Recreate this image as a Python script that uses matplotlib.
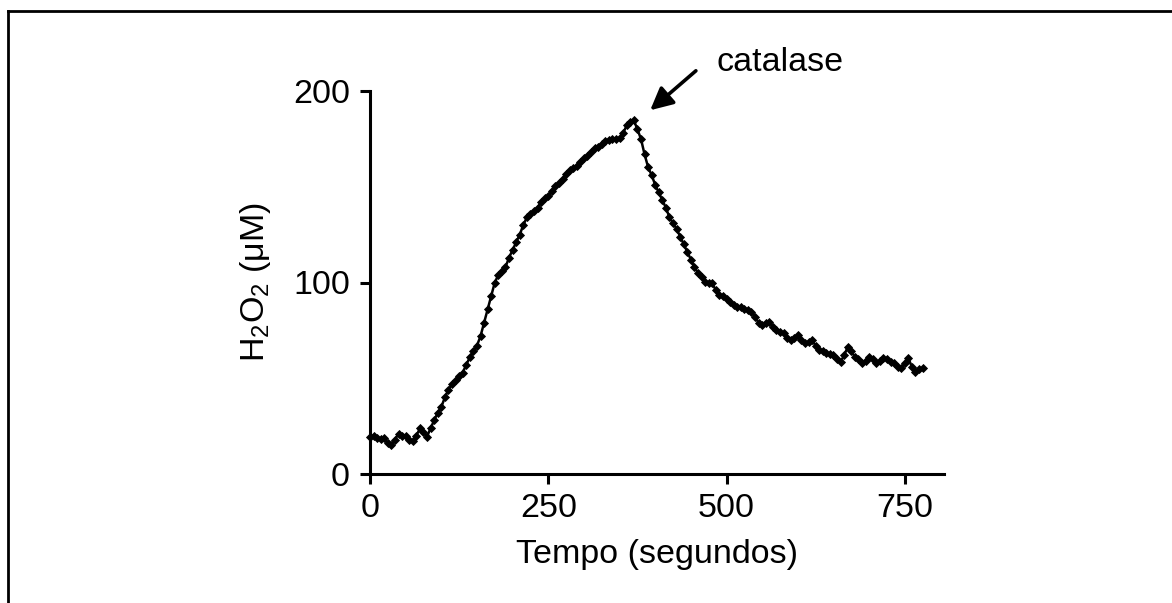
import numpy as np
import matplotlib
matplotlib.use("Agg")
import matplotlib.pyplot as plt
from matplotlib.lines import Line2D

plt.rcParams['font.family'] = ['Liberation Sans', 'DejaVu Sans']
plt.rcParams['mathtext.fontset'] = 'custom'
plt.rcParams['mathtext.rm'] = 'Liberation Sans'
plt.rcParams['mathtext.it'] = 'Liberation Sans:italic'

# time in seconds (one reading every 5 s)
tempo = list(range(0, 780, 5))

# H2O2 concentration (uM)
h2o2 = [
    19.5, 20, 19, 18.5, 18.6, 16, 15, 18, 21, 20,
    20, 18, 17, 20, 23.8, 22, 19.5, 24, 28, 32,
    35, 40, 44, 47, 49, 51, 53, 57, 61, 64,
    67, 72, 79, 86, 93, 100, 104, 106, 108, 113,
    117, 121, 125, 130, 134, 136, 137.5, 139, 142, 144,
    145, 148, 150.5, 152, 154, 156.5, 158.5, 160, 161, 163,
    165, 166, 168, 170, 171, 172.5, 174, 174.5, 175, 175,
    175.2, 178, 182, 184, 184.7, 180, 175, 167, 160.3, 156,
    151, 147, 143, 139, 134, 131, 128, 124, 120, 116,
    112, 108, 105, 103, 100.5, 100, 99.5, 96, 93.5, 93,
    91.6, 90, 88, 87.3, 87, 86, 85.5, 84.7, 82, 79,
    77.7, 79, 79.4, 77, 75, 74, 73.4, 71, 69.9, 71,
    72.5, 70, 68.2, 69, 69.9, 67, 64.7, 64, 63, 62.5,
    62.1, 60, 58.6, 62, 66.4, 64, 61.2, 60, 57.8, 59,
    61.2, 60, 57.8, 59, 60.4, 60, 58.6, 58, 56, 55.1,
    58, 60.4, 56, 53.4, 55, 55.1,
]

x_ticks = [0, 250, 500, 750]
y_ticks = [0, 100, 200]

fig = plt.figure(figsize=(11.72, 6.03), dpi=100)
ax = fig.add_axes([370 / 1172, (603 - 474) / 603, 574 / 1172, 383 / 603])

ax.plot(tempo, h2o2, color="black", lw=1.8, marker="D", markersize=3.8,
        markeredgewidth=0.6, clip_on=False)

ax.set_xlim(0, 805)
ax.set_ylim(0, 200)
ax.set_xticks(x_ticks)
ax.set_yticks(y_ticks)

for side in ["top", "right"]:
    ax.spines[side].set_visible(False)
for side in ["left", "bottom"]:
    ax.spines[side].set_linewidth(2.2)
ax.tick_params(direction="out", length=7.5, width=2.2, labelsize=24.5)
ax.tick_params(axis="x", pad=6)
ax.tick_params(axis="y", pad=7)

ax.set_xlabel("Tempo (segundos)", fontsize=24.5, labelpad=11)
ax.set_ylabel(r"H$_\mathrm{2}$O$_\mathrm{2}$ ($\mathrm{\mu}$M)", fontsize=24.5, labelpad=14)

# catalase arrow and label
ax.annotate("", xy=(390, 189), xytext=(460, 211.5),
            arrowprops=dict(arrowstyle="-|>", color="black", lw=2.6, mutation_scale=34),
            annotation_clip=False)
ax.text(486, 215, "catalase", fontsize=24.5, ha="left", va="center")

# frame lines of the original panel
fig.add_artist(Line2D([8 / 1172, 8 / 1172], [0, (603 - 11) / 603], color="black", lw=2))
fig.add_artist(Line2D([8 / 1172, 1], [(603 - 11) / 603, (603 - 11) / 603], color="black", lw=2))

fig.savefig("out.png", dpi=100)
